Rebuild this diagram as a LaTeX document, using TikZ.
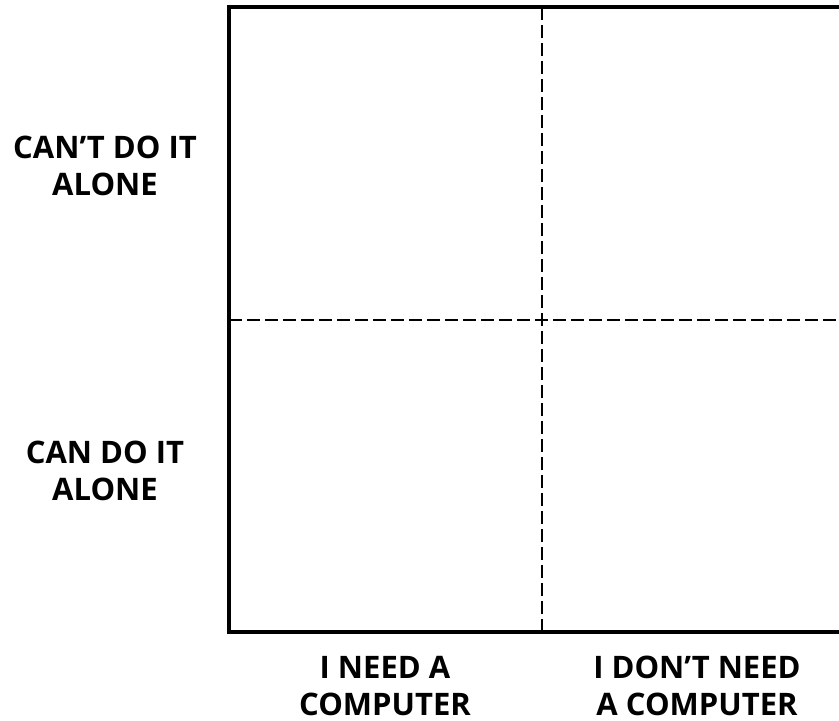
\documentclass[tikz,border=0pt]{standalone}
\usepackage{fontspec}
\setmainfont{Open Sans}
\begin{document}
\begin{tikzpicture}[x=1pt,y=-1pt,
  axis/.style={line width=4pt},
  grid/.style={line width=1.5pt,dash pattern=on 13pt off 5pt},
  lab/.style={font=\bfseries\fontsize{31}{37}\selectfont,align=center,inner sep=0pt}]
\useasboundingbox (0,0) rectangle (839,721);
\coordinate (tl) at (229,7);
\coordinate (bl) at (229,632);
\coordinate (tr) at (845,7);
\coordinate (br) at (845,632);
\coordinate (vt) at (542,7);
\coordinate (vb) at (542,632);
\coordinate (hl) at (229,320);
\coordinate (hr) at (845,320);
\begin{scope}
\clip (0,0) rectangle (839,721);
\draw[grid] (vt) -- (vb);
\draw[grid] (hl) -- (hr);
\draw[axis,line join=miter] (tr) -- (tl) -- (bl) -- (br);
\end{scope}
\node[lab] (a) at (105,166) {CAN’T DO IT\\ALONE};
\node[lab] (b) at (105,471) {CAN DO IT\\ALONE};
\node[lab] (c) at (385,686) {I NEED A\\COMPUTER};
\node[lab] (d) at (697,686) {I DON’T NEED\\A COMPUTER};
\end{tikzpicture}
\end{document}
